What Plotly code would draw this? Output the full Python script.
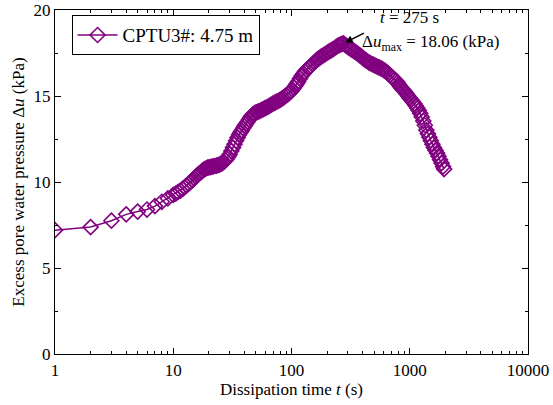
import math
import plotly.graph_objects as go

time_s = [1, 2, 3, 4, 5, 6, 7, 8, 9,
          10, 10.5, 11, 11.5, 12, 12.5, 13, 13.5, 14, 14.5,
          15, 15.5, 16, 16.5, 17, 17.5, 18, 18.5, 19, 19.5,
          20, 20.6, 21.2, 21.8, 22.5, 23.2, 23.9, 24.6, 25.3, 26,
          26.8, 27.6, 28.4, 29.2, 30, 31, 32, 33, 34, 35,
          36, 37, 38, 39, 40, 41.2, 42.4, 43.6, 44.8, 46,
          47.4, 48.8, 50.2, 51.6, 53, 54.6, 56.2, 57.8, 59.4, 61,
          63, 65, 67, 69, 71, 73, 75, 77.5, 80, 82.5,
          85, 87.5, 90, 93, 96, 99, 102, 105, 108, 111,
          114, 118, 122, 126, 130, 134, 138, 142, 146, 151,
          156, 161, 166, 171, 176, 181, 187, 193, 199, 205,
          211, 218, 225, 232, 239, 246, 253, 261, 268, 275,
          283, 291, 299, 308, 317, 326, 336, 346, 356, 367,
          378, 389, 400, 412, 424, 437, 450, 463, 477, 491,
          506, 521, 537, 553, 570, 587, 604, 622, 641, 660,
          680, 700, 721, 743, 765, 788, 812, 836, 861, 887,
          914, 941, 969, 998, 1028, 1059, 1091, 1123, 1157, 1192,
          1227, 1264, 1302, 1341, 1381, 1423, 1465, 1509, 1555, 1601,
          1649, 1699, 1750, 1802, 1856, 1912, 1950]
du_kpa = [7.2, 7.38, 7.75, 8.12, 8.28, 8.4, 8.6, 8.85, 9.05,
          9.25, 9.33, 9.42, 9.5, 9.6, 9.7, 9.8, 9.9, 10.0, 10.1,
          10.2, 10.3, 10.4, 10.48, 10.55, 10.63, 10.7, 10.75, 10.8, 10.83,
          10.85, 10.87, 10.89, 10.91, 10.93, 10.95, 10.98, 11.01, 11.05, 11.1,
          11.17, 11.25, 11.35, 11.47, 11.6, 11.8, 12.0, 12.2, 12.4, 12.58,
          12.75, 12.88, 13.0, 13.13, 13.25, 13.37, 13.49, 13.62, 13.75, 13.85,
          13.94, 14.0, 14.05, 14.08, 14.11, 14.15, 14.2, 14.24, 14.28, 14.32,
          14.37, 14.43, 14.48, 14.54, 14.58, 14.63, 14.67, 14.72, 14.77, 14.83,
          14.89, 14.96, 15.03, 15.1, 15.18, 15.27, 15.37, 15.48, 15.6, 15.72,
          15.85, 16.02, 16.18, 16.3, 16.42, 16.52, 16.6, 16.68, 16.76, 16.86,
          16.95, 17.05, 17.13, 17.2, 17.26, 17.32, 17.38, 17.44, 17.5, 17.56,
          17.61, 17.67, 17.73, 17.79, 17.85, 17.91, 17.96, 18.0, 18.03, 18.06,
          17.98, 17.92, 17.86, 17.8, 17.74, 17.68, 17.62, 17.56, 17.5, 17.43,
          17.36, 17.3, 17.22, 17.15, 17.08, 17.02, 16.96, 16.91, 16.86, 16.82,
          16.78, 16.73, 16.69, 16.65, 16.6, 16.56, 16.51, 16.45, 16.38, 16.3,
          16.22, 16.13, 16.04, 15.96, 15.88, 15.78, 15.65, 15.52, 15.42, 15.33,
          15.23, 15.12, 15.0, 14.88, 14.78, 14.68, 14.56, 14.44, 14.3, 14.15,
          13.98, 13.78, 13.55, 13.3, 13.02, 12.8, 12.6, 12.4, 12.2, 12.0,
          11.85, 11.68, 11.5, 11.3, 11.1, 10.9, 10.75]

x_tickvals = [1, 10, 100, 1000, 10000]
x_ticktext = ["1", "10", "100", "1000", "10000"]
y_tickvals = [0, 5, 10, 15, 20]

series_name = "CPTU3#: 4.75 m"
peak_t = 275
peak_du = 18.06

PURPLE = "#800080"
FONT = "Liberation Serif, Times New Roman, serif"

fig = go.Figure()
fig.add_trace(go.Scatter(
    x=time_s, y=du_kpa, mode="lines+markers", name=series_name,
    line=dict(color=PURPLE, width=1.5),
    marker=dict(symbol="diamond-open", size=11.5, color=PURPLE, line=dict(width=1.6, color=PURPLE)),
))

axis_common = dict(
    showline=True, linecolor="black", linewidth=1.2, mirror="ticks",
    ticks="inside", ticklen=6, tickwidth=1, tickcolor="black",
    showgrid=False, zeroline=False, automargin=False,
    tickfont=dict(family=FONT, size=17, color="black"),
)

fig.update_layout(
    width=553, height=405,
    margin=dict(l=55, r=25, t=10, b=51),
    paper_bgcolor="white", plot_bgcolor="white",
    font=dict(family=FONT, size=17, color="black"),
    showlegend=True,
    legend=dict(x=0.035, y=0.985, xanchor="left", yanchor="top",
                bordercolor="black", borderwidth=1, bgcolor="white",
                font=dict(family=FONT, size=19), tracegroupgap=0,
                itemwidth=40),
    xaxis=dict(type="log", range=[0, 4], tickvals=x_tickvals, ticktext=x_ticktext,
               minor=dict(ticks="inside", ticklen=3, tickcolor="black", dtick="D1", showgrid=False),
               title=dict(text="Dissipation time <i>t</i> (s)", font=dict(family=FONT, size=17), standoff=4),
               **axis_common),
    yaxis=dict(range=[0, 20], tickvals=y_tickvals,
               minor=dict(ticks="inside", ticklen=3, tickcolor="black", dtick=2.5, showgrid=False),
               title=dict(text="Excess pore water pressure Δ<i>u</i> (kPa)", font=dict(family=FONT, size=17), standoff=4),
               **axis_common),
)

fig.add_annotation(x=math.log10(peak_t), y=peak_du, xref="x", yref="y",
                   text="", showarrow=True, arrowhead=2, arrowsize=1, arrowwidth=1.5,
                   arrowcolor="black", ax=22, ay=-11, standoff=2)
fig.add_annotation(x=0.683, y=0.978, xref="paper", yref="paper", xanchor="left", yanchor="middle",
                   text="<i>t</i> = 275 s", showarrow=False, font=dict(family=FONT, size=17))
fig.add_annotation(x=0.645, y=0.905, xref="paper", yref="paper", xanchor="left", yanchor="middle",
                   text="Δ<i>u</i><sub>max</sub> = 18.06 (kPa)", showarrow=False, font=dict(family=FONT, size=17))

fig.write_html("out.html", config={"displayModeBar": False},
               post_script="document.body.style.margin='0';document.body.style.padding='0';")
